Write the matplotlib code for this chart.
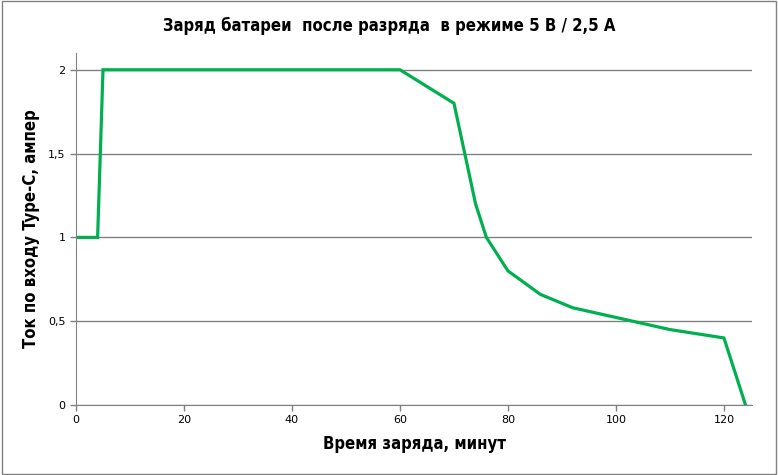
import matplotlib.pyplot as plt
from matplotlib.patches import Rectangle

# время заряда (мин) и ток (А)
minutes = [0, 4, 5, 60, 70, 74, 76, 80, 86, 92, 110, 120, 124]
current = [1.0, 1.0, 2.0, 2.0, 1.8, 1.2, 1.0, 0.8, 0.66, 0.58, 0.45, 0.40, 0.0]
x_ticks = [0, 20, 40, 60, 80, 100, 120]
y_ticks = [0, 0.5, 1, 1.5, 2]
y_labels = ['0', '0,5', '1', '1,5', '2']

plt.rcParams['font.family'] = ['DejaVu Sans']

fig = plt.figure(figsize=(7.78, 4.75), dpi=100)
ax = fig.add_axes([0.0977, 0.1474, 0.8689, 0.741])

ax.plot(minutes, current, color='#00B050', lw=2.3, solid_joinstyle='miter')

ax.set_xlim(0, 125.2)
ax.set_ylim(0, 2.1)
ax.set_xticks(x_ticks)
ax.set_yticks(y_ticks)
ax.set_yticklabels(y_labels)
ax.tick_params(colors='#808080', labelcolor='black', labelsize=8, length=4, width=1)

ax.grid(axis='y', color='#808080', lw=1)
ax.set_axisbelow(True)
for s in ['top', 'right']:
    ax.spines[s].set_visible(False)
for s in ['left', 'bottom']:
    ax.spines[s].set_color('#808080')

bold = dict(fontweight='bold', fontstretch='condensed')
fig.text(0.5, 0.945, 'Заряд батареи  после разряда  в режиме 5 В / 2,5 А',
         ha='center', va='center', fontsize=12, **bold)
ax.set_xlabel('Время заряда, минут', fontsize=12, labelpad=7, **bold)
ax.set_ylabel('Ток по входу Type-C, ампер', fontsize=12, labelpad=6, **bold)

fig.patches.append(Rectangle((0.002, 0.003), 0.996, 0.994, transform=fig.transFigure,
                             fill=False, edgecolor='#808080', lw=1))

fig.savefig('out.png', dpi=100)
